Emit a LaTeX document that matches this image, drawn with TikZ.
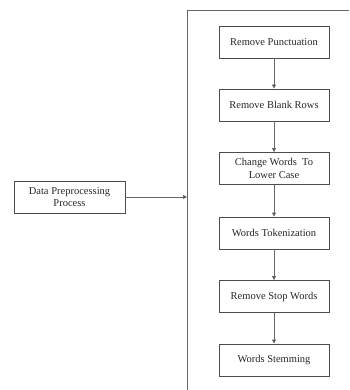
\documentclass[tikz,border=0pt]{standalone}
\usepackage{fontspec}
\setmainfont{Liberation Serif}
\usetikzlibrary{arrows.meta}
\begin{document}
\begin{tikzpicture}[x=1pt,y=-1pt,
  stepbox/.style={draw=black!70,line width=0.9pt,minimum width=110pt,minimum height=32pt,inner sep=0pt,align=center,font=\fontsize{10.5}{12.5}\selectfont,text=black!85},
  conn/.style={draw=black!60,line width=0.9pt,-{Triangle[length=4pt,width=4pt,fill=black]}}]
\useasboundingbox (0,0) rectangle (349,390);
\node[stepbox] (b1) at (274,42) {Remove Punctuation};
\node[stepbox] (b2) at (274,105) {Remove Blank Rows};
\node[stepbox] (b3) at (274,168.5) {Change Words~ To\\Lower Case};
\node[stepbox] (b4) at (274,233) {Words Tokenization};
\node[stepbox] (b5) at (274,296.5) {Remove Stop Words};
\node[stepbox] (b6) at (274,360) {Words Stemming};
\node[stepbox,minimum width=111pt] (dp) at (69.5,197) {Data Preprocessing\\Process};
\coordinate (ltop) at (187,10);
\coordinate (rtop) at (349,10);
\coordinate (lbot) at (187,390);
\coordinate (hit) at (187,197);
\draw[draw=black!60,line width=0.9pt] (rtop) -- (ltop) -- (lbot);
\draw[conn] (b1) -- (b2);
\draw[conn] (b2) -- (b3);
\draw[conn] (b3) -- (b4);
\draw[conn] (b4) -- (b5);
\draw[conn] (b5) -- (b6);
\draw[conn] (dp) -- (hit);
\end{tikzpicture}
\end{document}
